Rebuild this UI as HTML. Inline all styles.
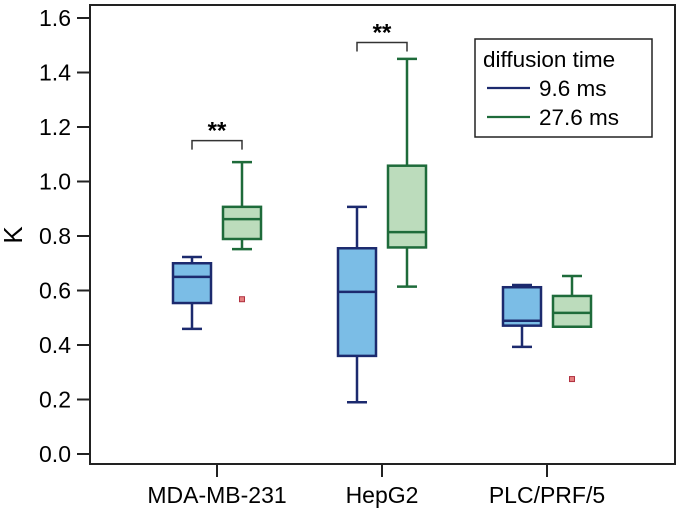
<!DOCTYPE html>
<html><head><meta charset="utf-8"><style>
body{margin:0;background:#fff;}
svg{display:block;font-family:"Liberation Sans",sans-serif;}
</style></head><body>
<svg id="c" width="680" height="511" viewBox="0 0 680 511">
<rect x="90" y="5" width="585" height="459" fill="none" stroke="#222" stroke-width="2"/>
<text x="22" y="235" font-size="26" text-anchor="middle" transform="rotate(-90 22 235)">K</text>
<g id="yaxis"></g>
<g id="xaxis"></g>
<g id="boxes"></g>
<g id="sig"></g>
<g>
<rect x="475" y="39" width="177" height="98" fill="#fff" stroke="#222" stroke-width="1.5"/>
<text x="483" y="67" font-size="22.5">diffusion time</text>
<line x1="487" y1="88" x2="530" y2="88" stroke="#1c2a6e" stroke-width="2.2"/>
<text x="539" y="96" font-size="22.5">9.6 ms</text>
<line x1="487" y1="117" x2="530" y2="117" stroke="#1e6b3a" stroke-width="2.2"/>
<text x="539" y="125" font-size="22.5">27.6 ms</text>
</g>
</svg>
<script>
const categories=["MDA-MB-231","HepG2","PLC/PRF/5"];
const yTicks=[0,0.2,0.4,0.6,0.8,1.0,1.2,1.4,1.6];
// [min,q1,median,q3,max]
const short96=[[0.459,0.554,0.65,0.70,0.723],[0.19,0.36,0.595,0.755,0.907],[0.393,0.471,0.489,0.612,0.62]];
const long276=[[0.752,0.789,0.862,0.907,1.071],[0.614,0.758,0.814,1.058,1.45],[0.467,0.467,0.518,0.58,0.653]];
const outliers96=[null,null,null];
const outliers276=[0.568,null,0.275];
const sigCats=[0,1];
const sigTop=[1.15,1.51];

const NS="http://www.w3.org/2000/svg";
const y=v=>454-v*272.5;
const x=i=>217+i*165;
function mk(tag,attrs,parent){const e=document.createElementNS(NS,tag);for(const k in attrs)e.setAttribute(k,attrs[k]);parent.appendChild(e);return e;}
const ya=document.getElementById('yaxis'),xa=document.getElementById('xaxis'),bx=document.getElementById('boxes'),sg=document.getElementById('sig');
yTicks.forEach(t=>{
  const l=mk('line',{x1:77,x2:90,y1:y(t),y2:y(t),stroke:'#222','stroke-width':2},ya);
  
  
  const tx=mk('text',{x:71,y:y(t)+8,'font-size':23,'text-anchor':'end'},ya);
  tx.textContent=t.toFixed(1);
  
  
});
categories.forEach((c,i)=>{
  const l=mk('line',{x1:x(i),x2:x(i),y1:464,y2:477,stroke:'#222','stroke-width':2},xa);
  
  
  const tx=mk('text',{x:x(i),y:503,'font-size':23,'text-anchor':'middle'},xa);
  tx.textContent=c;
  
  
});
function drawBox(s,cx,fill,stroke,name,out){
  const g=mk('g',{},bx);
  
  
  const w=19,cw=20,sw=2.5;
  mk('line',{x1:cx,x2:cx,y1:y(s[0]),y2:y(s[1]),stroke:stroke,'stroke-width':sw},g);
  mk('line',{x1:cx,x2:cx,y1:y(s[3]),y2:y(s[4]),stroke:stroke,'stroke-width':sw},g);
  mk('line',{x1:cx-cw/2,x2:cx+cw/2,y1:y(s[0]),y2:y(s[0]),stroke:stroke,'stroke-width':sw},g);
  mk('line',{x1:cx-cw/2,x2:cx+cw/2,y1:y(s[4]),y2:y(s[4]),stroke:stroke,'stroke-width':sw},g);
  mk('rect',{x:cx-w,y:y(s[3]),width:2*w,height:y(s[1])-y(s[3]),fill:fill,stroke:stroke,'stroke-width':sw},g);
  mk('line',{x1:cx-w,x2:cx+w,y1:y(s[2]),y2:y(s[2]),stroke:stroke,'stroke-width':sw},g);
  if(out!=null){
    const o=mk('rect',{x:cx-2.5,y:y(out)-2.5,width:5,height:5,fill:'#e58080',stroke:'#b03040','stroke-width':1},g);
    
    
  }
}
categories.forEach((c,i)=>{
  drawBox(short96[i],x(i)-25,'#7bbde6','#1c2a6e','box-9-6ms-'+i,outliers96[i]);
  drawBox(long276[i],x(i)+25,'#bcdcbc','#1e6b3a','box-27-6ms-'+i,outliers276[i]);
});
sigCats.forEach((ci,k)=>{
  const yy=y(sigTop[k]);
  const p=mk('path',{d:`M${x(ci)-25},${yy+9}V${yy}H${x(ci)+25}V${yy+9}`,fill:'none',stroke:'#333','stroke-width':1.5},sg);
  
  
  const t=mk('text',{x:x(ci),y:yy-2,'font-size':24,'text-anchor':'middle','font-weight':'bold'},sg);
  t.textContent='**';
  
  
});
</script>
</body></html>
